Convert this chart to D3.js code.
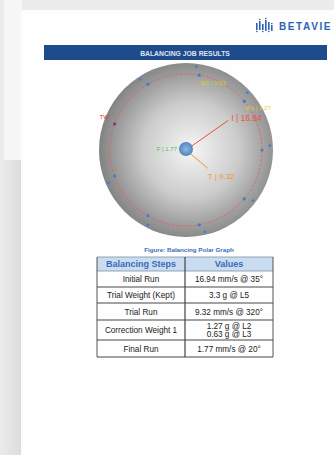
<!DOCTYPE html>
<html>
<head>
<meta charset="utf-8">
<script src="https://d3js.org/d3.v7.min.js"></script>
<style>
body { margin: 0; background: #ececec; overflow: hidden; }
svg { display: block; font-family: "Liberation Sans", Arial, sans-serif; }
</style>
</head>
<body>
<svg width="334" height="455"></svg>
<script>
// polar graph data
var vecNames = ["I", "T", "F"];
var vecMags = [16.94, 9.32, 1.77];
var vecAngles = [35, 320, 20];
var vecColors = ["#e8533a", "#f0962a", "#4fc34a"];

var locNames = ["L1", "L2", "L3", "L4", "L5", "L6", "L7", "L8", "L9"];
var locAngles = [0, 40, 80, 120, 160, 200, 240, 280, 320];

var wtNames = ["W1", "W2", "TW"];
var wtValues = [1.27, 0.63, 3.3];
var wtLoc = ["L2", "L3", "L5"];

// table data
var tableHead = ["Balancing Steps", "Values"];
var tableSteps = ["Initial Run", "Trial Weight (Kept)", "Trial Run", "Correction Weight 1", "Final Run"];
var tableValues = [["16.94 mm/s @ 35°"], ["3.3 g @ L5"], ["9.32 mm/s @ 320°"], ["1.27 g @ L2", "0.63 g @ L3"], ["1.77 mm/s @ 20°"]];

var svg = d3.select("svg");
var defs = svg.append("defs");

// background card and page
svg.append("rect").attr("x", 4).attr("y", 0).attr("width", 18).attr("height", 160).attr("fill", "#f7f7f7");
var sh = defs.append("linearGradient").attr("id", "sh");
sh.append("stop").attr("offset", "0").attr("stop-color", "#ececec");
sh.append("stop").attr("offset", "1").attr("stop-color", "#dcdcdc");
svg.append("rect").attr("x", 0).attr("y", 160).attr("width", 21).attr("height", 295).attr("fill", "url(#sh)");
svg.append("rect").attr("x", 21).attr("y", 10).attr("width", 313).attr("height", 445).attr("fill", "#fefefe");

// logo
var logo = svg.append("g").attr("transform", "translate(256,20)");
var barY = [3, 1, 4, 0, 2, 5];
var barH = [7, 9, 6, 11, 8, 6];
logo.selectAll("rect").data(barH).enter().append("rect")
  .attr("x", function(d, i) { return i * 3; })
  .attr("y", function(d, i) { return barY[i]; })
  .attr("width", 1.6).attr("height", function(d) { return d; })
  .attr("fill", "#2a64b8");
logo.selectAll("circle").data(barH).enter().append("circle")
  .attr("cx", function(d, i) { return i * 3 + 0.8; })
  .attr("cy", function(d, i) { return i % 2 ? barY[i] - 1.5 : barY[i] + d + 1.5; })
  .attr("r", 0.8).attr("fill", "#555");
svg.append("text").attr("x", 279).attr("y", 29.5).attr("font-size", 10).attr("font-weight", "bold")
  .attr("letter-spacing", 1.6).attr("fill", "#2a64b8").text("BETAVIE");

// title bar
svg.append("rect").attr("x", 44).attr("y", 45).attr("width", 283).attr("height", 15).attr("fill", "#1e4b8c");
svg.append("text").attr("x", 185).attr("y", 55.5).attr("text-anchor", "middle")
  .attr("font-size", 6.8).attr("font-weight", "bold").attr("fill", "#dfe6f2").text("BALANCING JOB RESULTS");

// polar graph
var cx = 186, cy = 150, R = 87, ringR = 76;
var rad = d3.scaleLinear().domain([0, 25]).range([0, ringR]);
function px(a, r) { return cx + r * Math.cos(a * Math.PI / 180); }
function py(a, r) { return cy - r * Math.sin(a * Math.PI / 180); }

var rg = defs.append("radialGradient").attr("id", "disc").attr("cx", "0.53").attr("cy", "0.5").attr("r", "0.55");
rg.append("stop").attr("offset", "0").attr("stop-color", "#f6f6f6");
rg.append("stop").attr("offset", "0.5").attr("stop-color", "#cccccc");
rg.append("stop").attr("offset", "1").attr("stop-color", "#7c7c7c");
svg.append("circle").attr("cx", cx).attr("cy", cy).attr("r", R).attr("fill", "url(#disc)");

svg.append("circle").attr("cx", cx).attr("cy", cy).attr("r", ringR)
  .attr("fill", "none").attr("stroke", "#e4605a").attr("stroke-width", 0.8).attr("stroke-dasharray", "3,1.5");

// location markers
var locs = svg.append("g");
locs.selectAll("circle.in").data(locAngles).enter().append("circle")
  .attr("cx", function(d) { return px(d, ringR); })
  .attr("cy", function(d) { return py(d, ringR); })
  .attr("r", 1.6)
  .attr("fill", function(d, i) { return locNames[i] == "L5" ? "#6a3b8c" : "#3b7fd0"; });
locs.selectAll("circle.out").data(locAngles).enter().append("circle")
  .attr("cx", function(d) { return px(d + 3, 84); })
  .attr("cy", function(d) { return py(d + 3, 84); })
  .attr("r", 1.3)
  .attr("fill", function(d, i) { return locNames[i] == "L5" ? "none" : "#3b7fd0"; });

// vectors
var vec = svg.append("g");
vec.selectAll("line").data(vecMags).enter().append("line")
  .attr("x1", cx).attr("y1", cy)
  .attr("x2", function(d, i) { return px(vecAngles[i], rad(d)); })
  .attr("y2", function(d, i) { return py(vecAngles[i], rad(d)); })
  .attr("stroke", function(d, i) { return vecColors[i]; })
  .attr("stroke-width", 1);

// hub
var hg = defs.append("radialGradient").attr("id", "hub");
hg.append("stop").attr("offset", "0").attr("stop-color", "#8fb8dc");
hg.append("stop").attr("offset", "1").attr("stop-color", "#4f86c0");
svg.append("circle").attr("cx", cx).attr("cy", cy - 1).attr("r", 7).attr("fill", "url(#hub)");

// vector labels
var vlx = [3, 0, -9], vly = [1, 11, 1], vanc = ["start", "start", "end"], vfs = [8.5, 8, 6];
vec.selectAll("text").data(vecMags).enter().append("text")
  .attr("x", function(d, i) { return i == 2 ? cx + vlx[i] : px(vecAngles[i], rad(d)) + vlx[i]; })
  .attr("y", function(d, i) { return i == 2 ? cy + vly[i] : py(vecAngles[i], rad(d)) + vly[i]; })
  .attr("text-anchor", function(d, i) { return vanc[i]; })
  .attr("font-size", function(d, i) { return vfs[i]; })
  .attr("fill", function(d, i) { return vecColors[i]; })
  .text(function(d, i) { return vecNames[i] + " | " + d.toFixed(2); });

// weight labels
var wdx = [1, 1, -15], wdy = [9, 10, -5];
svg.append("g").selectAll("text").data(wtValues).enter().append("text")
  .attr("x", function(d, i) { return px(locAngles[locNames.indexOf(wtLoc[i])], ringR) + wdx[i]; })
  .attr("y", function(d, i) { return py(locAngles[locNames.indexOf(wtLoc[i])], ringR) + wdy[i]; })
  .attr("font-size", 6)
  .attr("fill", function(d, i) { return i == 2 ? "#d63a2a" : "#d8d02a"; })
  .text(function(d, i) { return i == 2 ? wtNames[i] : wtNames[i] + " | " + d.toFixed(2); });

// caption
svg.append("text").attr("x", 189).attr("y", 252).attr("text-anchor", "middle")
  .attr("font-size", 6.2).attr("font-weight", "bold").attr("fill", "#3a6cc0").text("Figure: Balancing Polar Graph");

// table
var colX = [97, 185, 273];
var rowY = [257, 271, 287, 303, 320, 340, 357];
var tbl = svg.append("g");
tbl.append("rect").attr("x", colX[0]).attr("y", rowY[0]).attr("width", colX[2] - colX[0]).attr("height", rowY[1] - rowY[0]).attr("fill", "#c9dcf0");
tbl.selectAll("text.h").data(tableHead).enter().append("text")
  .attr("x", function(d, i) { return (colX[i] + colX[i + 1]) / 2; })
  .attr("y", (rowY[0] + rowY[1]) / 2 + 3)
  .attr("text-anchor", "middle").attr("font-size", 9).attr("font-weight", "bold").attr("fill", "#3a6ab8")
  .text(function(d) { return d; });
tbl.selectAll("text.s").data(tableSteps).enter().append("text")
  .attr("x", (colX[0] + colX[1]) / 2)
  .attr("y", function(d, i) { return (rowY[i + 1] + rowY[i + 2]) / 2 + 3; })
  .attr("text-anchor", "middle").attr("font-size", 8.2).attr("fill", "#1a1a1a")
  .text(function(d) { return d; });
tableValues.forEach(function(vals, i) {
  var mid = (rowY[i + 1] + rowY[i + 2]) / 2;
  vals.forEach(function(v, j) {
    tbl.append("text").attr("x", (colX[1] + colX[2]) / 2)
      .attr("y", mid + 3 + (j - (vals.length - 1) / 2) * 7.5)
      .attr("text-anchor", "middle").attr("font-size", 8.2).attr("fill", "#1a1a1a").text(v);
  });
});
tbl.selectAll("line.r").data(rowY).enter().append("line")
  .attr("x1", colX[0]).attr("x2", colX[2])
  .attr("y1", function(d) { return d; }).attr("y2", function(d) { return d; })
  .attr("stroke", function(d, i) { return i < 2 ? "#8a9bb0" : "#333"; }).attr("stroke-width", 0.9);
tbl.selectAll("line.c").data(colX).enter().append("line")
  .attr("x1", function(d) { return d; }).attr("x2", function(d) { return d; })
  .attr("y1", rowY[0]).attr("y2", rowY[rowY.length - 1])
  .attr("stroke", "#444").attr("stroke-width", function(d, i) { return i == 1 ? 1.2 : 0.9; });
</script>
</body>
</html>
